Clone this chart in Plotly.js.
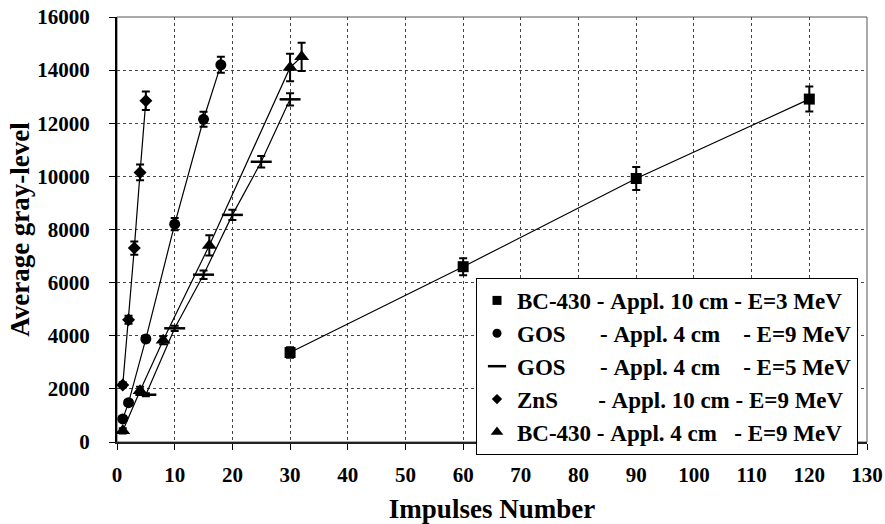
<!DOCTYPE html>
<html>
<head>
<meta charset="utf-8">
<script src="https://cdn.plot.ly/plotly-3.0.1.min.js"></script>
<style>
html,body{margin:0;padding:0;background:#fff;}
#chart{width:885px;height:524px;}
</style>
</head>
<body>
<div id="chart"></div>
<script>
// ---- data ----
const seriesNames = [
  "BC-430\u00A0-\u00A0Appl.\u00A010\u00A0cm\u00A0-\u00A0E=3\u00A0MeV",
  "GOS\u00A0\u00A0\u00A0\u00A0\u00A0\u00A0-\u00A0Appl.\u00A04\u00A0cm\u00A0\u00A0\u00A0\u00A0-\u00A0E=9\u00A0MeV",
  "GOS\u00A0\u00A0\u00A0\u00A0\u00A0\u00A0-\u00A0Appl.\u00A04\u00A0cm\u00A0\u00A0\u00A0\u00A0-\u00A0E=5\u00A0MeV",
  "ZnS\u00A0\u00A0\u00A0\u00A0\u00A0\u00A0\u00A0-\u00A0Appl.\u00A010\u00A0cm\u00A0-\u00A0E=9\u00A0MeV",
  "BC-430\u00A0-\u00A0Appl.\u00A04\u00A0cm\u00A0\u00A0\u00A0-\u00A0E=9\u00A0MeV"
];

const bc430_10_x   = [30, 60, 90, 120];
const bc430_10_y   = [3370, 6600, 9920, 12910];
const bc430_10_err = [200, 320, 430, 470];

const gos9_x   = [1, 2, 5, 10, 15, 18];
const gos9_y   = [870, 1480, 3880, 8200, 12150, 14200];
const gos9_err = [100, 100, 120, 230, 280, 300];

const gos5_x   = [5, 10, 15, 20, 25, 30];
const gos5_y   = [1780, 4280, 6300, 8550, 10550, 12900];
const gos5_err = [60, 100, 160, 190, 220, 230];

const zns_x   = [1, 2, 3, 4, 5];
const zns_y   = [2150, 4600, 7300, 10150, 12850];
const zns_err = [100, 150, 250, 300, 350];

const bc430_4_x   = [1, 4, 8, 16, 30, 32];
const bc430_4_y   = [420, 1930, 3830, 7400, 14100, 14500];
const bc430_4_err = [100, 150, 150, 380, 520, 530];

const xTicks = [0,10,20,30,40,50,60,70,80,90,100,110,120,130];
const yTicks = [0,2000,4000,6000,8000,10000,12000,14000,16000];

// ---- styling ----
const FONT = "Liberation Serif";
const series = [
  {x: bc430_10_x, y: bc430_10_y, e: bc430_10_err, sym: "square", size: 11, lsize: 9, lw: 0},
  {x: gos9_x, y: gos9_y, e: gos9_err, sym: "circle", size: 11, lsize: 9, lw: 0},
  {x: gos5_x, y: gos5_y, e: gos5_err, sym: "line-ew", size: 15, lsize: 13, lw: 2.5},
  {x: zns_x, y: zns_y, e: zns_err, sym: "diamond", size: 10, lsize: 8, lw: 0},
  {x: bc430_4_x, y: bc430_4_y, e: bc430_4_err, sym: "triangle-up", size: 13, lsize: 11, lw: 0}
];

const traces = [];
series.forEach((s, i) => {
  traces.push({
    type: "scatter", mode: "lines+markers", x: s.x, y: s.y,
    name: seriesNames[i], showlegend: false,
    line: {color: "#000", width: 1.2},
    marker: {symbol: s.sym, size: s.size, color: "#000", line: {color: "#000", width: s.lw}},
    error_y: {type: "data", array: s.e, visible: true, color: "#000", thickness: 2, width: 4},
    cliponaxis: false
  });
});
series.forEach((s, i) => {
  traces.push({
    type: "scatter", mode: "markers", x: [null], y: [null],
    name: seriesNames[i], showlegend: true,
    marker: {symbol: s.sym, size: s.lsize, color: "#000", line: {color: "#000", width: s.lw}}
  });
});

const layout = {
  width: 885, height: 524,
  margin: {l: 117, r: 18, t: 17, b: 82},
  paper_bgcolor: "#fff", plot_bgcolor: "#fff",
  font: {family: FONT, color: "#000", size: 20, weight: "bold"},
  showlegend: true,
  xaxis: {
    range: [0, 130], tickvals: xTicks, ticktext: xTicks.map(String),
    showgrid: true, gridcolor: "#444", gridwidth: 1, griddash: "dot",
    zeroline: false, showline: true, linecolor: "#222", linewidth: 2,
    ticks: "outside", ticklen: 6, tickwidth: 1, tickcolor: "#000",
    ticklabelstandoff: 7,
    tickfont: {family: FONT, size: 21, weight: "bold", color: "#000"},
    title: {text: "Impulses Number", font: {family: FONT, size: 27, weight: "bold", color: "#000"}}
  },
  yaxis: {
    range: [0, 16000], tickvals: yTicks, ticktext: yTicks.map(String),
    showgrid: true, gridcolor: "#444", gridwidth: 1, griddash: "dot",
    zeroline: false, showline: true, linecolor: "#000", linewidth: 2,
    ticks: "outside", ticklen: 6, tickwidth: 1, tickcolor: "#000",
    ticklabelstandoff: 15,
    tickfont: {family: FONT, size: 21, weight: "bold", color: "#000"},
    title: {text: "Average gray-level", font: {family: FONT, size: 27, weight: "bold", color: "#000"}}
  },
  legend: {
    x: 0.988, xanchor: "right", y: 0.386, yanchor: "top",
    bgcolor: "#fff", bordercolor: "#000", borderwidth: 1,
    font: {family: FONT, size: 23, weight: "bold", color: "#000"},
    itemwidth: 30, tracegroupgap: 0
  },
  shapes: [{
    type: "rect", xref: "paper", yref: "paper", x0: 0, x1: 1, y0: 0, y1: 1,
    line: {color: "#555", width: 1}, layer: "below"
  }]
};

Plotly.newPlot("chart", traces, layout, {displayModeBar: false, staticPlot: true});
</script>
</body>
</html>
